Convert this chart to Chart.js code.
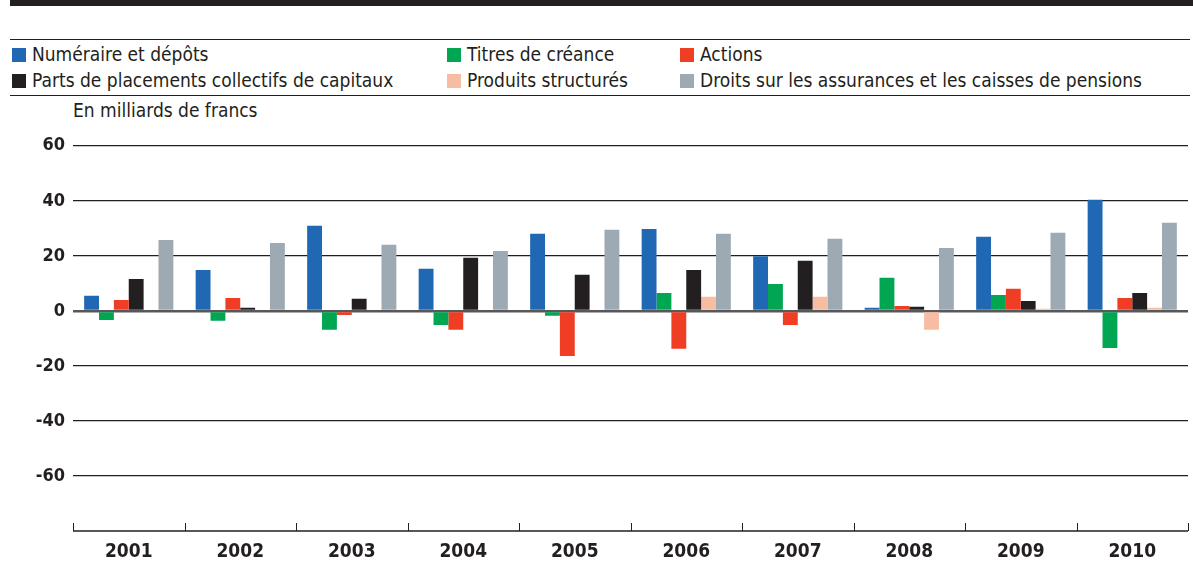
<!DOCTYPE html>
<html>
<head>
<meta charset="utf-8">
<script src="https://cdn.jsdelivr.net/npm/chart.js@4"></script>
<style>
  body { margin: 0; background: #fff; font-family: "DejaVu Sans Condensed", "DejaVu Sans", sans-serif; color: #231f20; }
  #page { position: relative; width: 1193px; height: 562px; overflow: hidden; }
  #topbar { position: absolute; left: 10px; right: 0; top: 0; height: 6px; background: #231f20; }
  .rule { position: absolute; left: 10px; right: 3px; height: 1px; background: #231f20; }
  .leg { position: absolute; font-size: 19px; line-height: 22px; white-space: nowrap; }
  .leg span { display: inline-block; width: 14px; height: 14px; margin-right: 6px; vertical-align: -1px; }
  #unit { position: absolute; left: 73px; top: 99px; font-size: 19px; line-height: 22px; }
  #wrap { position: absolute; left: 0; top: 127px; width: 1193px; height: 435px; }
</style>
</head>
<body>
<div id="page">
  <div id="topbar"></div>
  <div class="rule" style="top:39px"></div>
  <div id="legend"></div>
  <div class="rule" style="top:95px"></div>
  <div id="unit">En milliards de francs</div>
  <div id="wrap"><canvas id="chart"></canvas></div>
</div>
<script>
// data
const years = ['2001', '2002', '2003', '2004', '2005', '2006', '2007', '2008', '2009', '2010'];
const seriesNames = [
  'Numéraire et dépôts',
  'Titres de créance',
  'Actions',
  'Parts de placements collectifs de capitaux',
  'Produits structurés',
  'Droits sur les assurances et les caisses de pensions'
];
const numeraire = [5.5, 14.9, 30.9, 15.3, 28.0, 29.8, 19.9, 1.1, 26.9, 40.4];
const titres = [-3.3, -3.6, -6.9, -5.1, -1.8, 6.5, 9.8, 12.0, 5.8, -13.5];
const actions = [4.0, 4.7, -1.5, -6.9, -16.4, -13.8, -5.1, 1.8, 8.0, 4.7];
const placements = [11.6, 1.1, 4.4, 19.3, 13.1, 14.9, 18.2, 1.5, 3.6, 6.5];
const structures = [0, 0, 0, 0, 0, 5.1, 5.1, -6.9, 0.8, 1.1];
const assurances = [25.8, 24.7, 24.0, 21.8, 29.5, 28.0, 26.2, 22.9, 28.4, 32.0];
const colors = ['#2068b4', '#00a651', '#ef3e23', '#231f20', '#f8bca3', '#9eaab3'];
const yTicks = [60, 40, 20, 0, -20, -40, -60];

// legend: two rows, three columns (order as in the reference)
const legendSlots = [
  { i: 0, x: 12, y: 43 }, { i: 1, x: 447, y: 43 }, { i: 2, x: 680, y: 43 },
  { i: 3, x: 12, y: 69 }, { i: 4, x: 447, y: 69 }, { i: 5, x: 680, y: 69 }
];
const legendDiv = document.getElementById('legend');
legendSlots.forEach(s => {
  const d = document.createElement('div');
  d.className = 'leg';
  d.style.left = s.x + 'px';
  d.style.top = s.y + 'px';
  d.innerHTML = '<span style="background:' + colors[s.i] + '"></span>' + seriesNames[s.i];
  legendDiv.appendChild(d);
});

const values = [numeraire, titres, actions, placements, structures, assurances];

// small tick marks pointing up from the x axis, at category boundaries
const xTicksUp = {
  id: 'xTicksUp',
  afterDraw(chart) {
    const x = chart.scales.x;
    const ctx = chart.ctx;
    const bottom = chart.chartArea.bottom;
    const half = (x.getPixelForValue(1) - x.getPixelForValue(0)) / 2;
    ctx.save();
    ctx.strokeStyle = '#231f20';
    ctx.lineWidth = 1;
    for (let i = 0; i <= years.length; i++) {
      const px = Math.round(x.getPixelForValue(i) - half) + 0.5;
      ctx.beginPath();
      ctx.moveTo(px, bottom - 8);
      ctx.lineTo(px, bottom);
      ctx.stroke();
    }
    ctx.beginPath();
    ctx.lineWidth = 1.5;
    ctx.moveTo(chart.chartArea.left, bottom);
    ctx.lineTo(chart.chartArea.right, bottom);
    ctx.stroke();
    ctx.restore();
  }
};

new Chart(document.getElementById('chart'), {
  type: 'bar',
  data: {
    labels: years,
    datasets: values.map((v, i) => ({
      label: seriesNames[i],
      data: v,
      backgroundColor: colors[i],
      borderWidth: 0,
      barPercentage: 1,
      categoryPercentage: 0.8
    }))
  },
  options: {
    responsive: true,
    maintainAspectRatio: false,
    animation: false,
    layout: { padding: { top: 12, right: 5, bottom: 0, left: 0 } },
    plugins: { legend: { display: false }, tooltip: { enabled: false } },
    scales: {
      x: {
        grid: { display: false },
        border: { display: false },
        ticks: {
          color: '#231f20',
          font: { family: 'DejaVu Sans Condensed', weight: 'bold', size: 19 },
          padding: 2
        },
        afterFit(scale) { scale.height = 31; }
      },
      y: {
        min: -80,
        max: 60,
        border: { display: false },
        grid: {
          drawTicks: false,
          color: c => c.tick.value === 0 ? '#58585a' : (c.tick.value === -80 ? 'rgba(0,0,0,0)' : '#231f20'),
          lineWidth: c => c.tick.value === 0 ? 2.5 : 1.2
        },
        ticks: {
          stepSize: 20,
          color: '#231f20',
          padding: 8,
          font: { family: 'DejaVu Sans Condensed', weight: 'bold', size: 18 },
          callback: v => yTicks.includes(v) ? String(v) : ''
        },
        afterFit(scale) { scale.width = 73; }
      }
    }
  },
  plugins: [xTicksUp]
});
</script>
</body>
</html>
